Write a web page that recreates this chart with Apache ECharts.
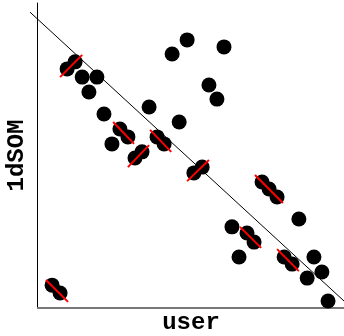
<!DOCTYPE html>
<html>
<head>
<meta charset="utf-8">
<script src="https://cdn.jsdelivr.net/npm/echarts@6/dist/echarts.min.js"></script>
<style>
html,body{margin:0;padding:0;background:#fff;}
#chart{width:344px;height:336px;}
</style>
</head>
<body>
<div id="chart"></div>
<script>
// Black dots (x = user, y = 1dSOM)
const dotX = [14.7, 19.5, 16.9, 21.8, 36.5, 24.4, 44.0, 48.9, 60.9, 56.0, 58.6, 46.3,
              85.3, 63.5, 65.8, 90.2, 92.8, 88.0, 94.8,
              9.8, 12.4, 27.0, 29.6, 31.9, 34.2, 39.1, 41.4, 51.1, 53.8,
              73.3, 75.6, 78.2, 68.4, 70.7, 80.5, 83.1, 4.9, 7.5];
const dotY = [75.7, 75.7, 70.8, 63.6, 65.9, 53.8, 83.3, 87.9, 85.6, 73.1, 68.5, 61.0,
              29.2, 26.6, 16.7, 16.7, 11.8, 9.8, 2.3,
              78.4, 80.7, 58.7, 56.1, 49.2, 51.2, 56.1, 53.8, 44.3, 46.2,
              41.3, 39.0, 36.4, 24.6, 21.6, 16.7, 14.4, 7.5, 4.9];
// Red segments: start and end points
const segStartX = [7.5, 24.8, 29.6, 36.8, 48.9, 71.0, 66.1, 78.2, 2.9];
const segStartY = [75.7, 61.0, 46.2, 58.4, 41.6, 43.6, 26.6, 19.3, 9.2];
const segEndX   = [14.7, 31.6, 36.5, 43.7, 56.0, 80.1, 73.0, 85.3, 10.1];
const segEndY   = [83.0, 53.8, 53.4, 51.2, 48.5, 34.4, 19.7, 12.1, 2.0];
// Reference diagonal
const diagX = [-2.3, 100];
const diagY = [97.0, 2.3];
// Bottom axis baseline (from x = 0 to the right end)
const baseX = [0, 100];
const baseY = [0, 0];

const labelFont = {fontFamily: 'Liberation Mono', fontWeight: 'bold', fontSize: 24, color: '#000'};

const series = [];
series.push({
  type: 'line',
  data: baseX.map((x, i) => [x, baseY[i]]),
  clip: false,
  symbol: 'none',
  lineStyle: {color: '#777', width: 2},
  z: 1,
  silent: true
});
series.push({
  type: 'scatter',
  data: dotX.map((x, i) => [x, dotY[i]]),
  symbol: 'circle',
  symbolSize: 15,
  itemStyle: {color: '#000', opacity: 1},
  z: 2,
  silent: true
});
series.push({
  type: 'line',
  data: diagX.map((x, i) => [x, diagY[i]]),
  clip: false,
  symbol: 'none',
  lineStyle: {color: '#000', width: 1},
  z: 3,
  silent: true
});
segStartX.forEach((x, i) => {
  series.push({
    type: 'line',
    data: [[x, segStartY[i]], [segEndX[i], segEndY[i]]],
    symbol: 'none',
    clip: false,
    lineStyle: {color: '#ff0000', width: 2},
    z: 4,
    silent: true
  });
});

const chart = echarts.init(document.getElementById('chart'), null, {renderer: 'canvas'});
chart.setOption({
  animation: false,
  backgroundColor: '#fff',
  grid: {left: 30, right: 0, top: 3, bottom: 28, containLabel: false, outerBoundsMode: 'none'},
  xAxis: {
    type: 'value', min: -2.3, max: 100,
    name: 'user', nameLocation: 'middle', nameGap: 3,
    nameTextStyle: Object.assign({}, labelFont, {padding: [0, 0, 0, 8]}),
    axisLine: {show: false},
    axisTick: {show: false}, axisLabel: {show: false}, splitLine: {show: false}
  },
  yAxis: {
    type: 'value', min: 0, max: 100,
    name: '1dSOM', nameLocation: 'middle', nameGap: 1,
    nameTextStyle: labelFont,
    axisLine: {show: true, onZero: true, lineStyle: {color: '#000', width: 1}},
    axisTick: {show: false}, axisLabel: {show: false}, splitLine: {show: false}
  },
  series: series
});
</script>
</body>
</html>
